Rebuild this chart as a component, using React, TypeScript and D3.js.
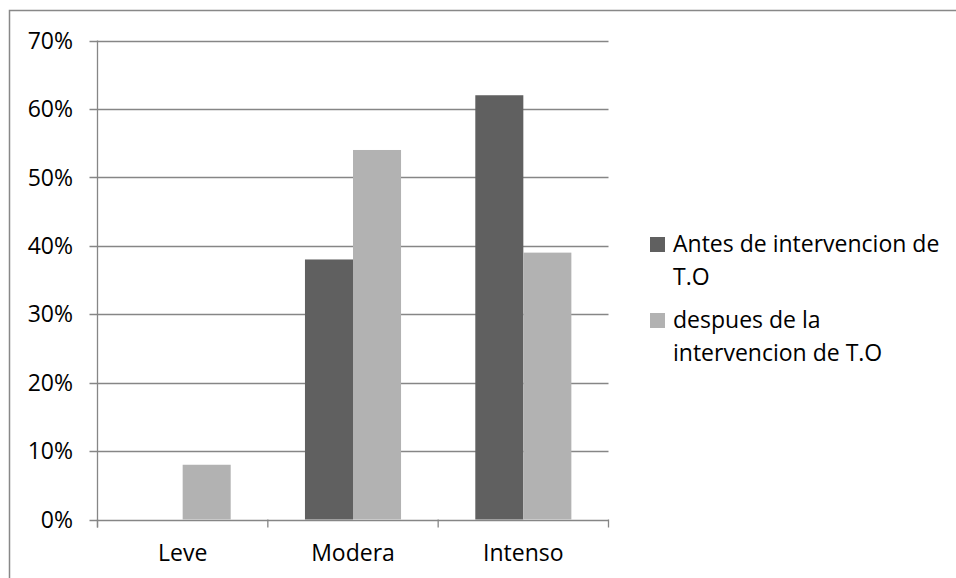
import React from 'react';
import * as d3 from 'd3';

const categories = ['Leve', 'Modera', 'Intenso'];
const seriesNames = ['Antes de intervencion de T.O', 'despues de la intervencion de T.O'];
const antes = [0, 0.38, 0.62];
const despues = [0.08, 0.54, 0.39];
const yTicks = [0, 0.1, 0.2, 0.3, 0.4, 0.5, 0.6, 0.7];
const legendLines = [['Antes de intervencion de', 'T.O'], ['despues de la', 'intervencion de T.O']];

const colors = ['#606060', '#b2b2b2'];
const font = "'Open Sans', 'Noto Sans', sans-serif";

export default function App() {
  const width = 956;
  const height = 578;
  const plot = { left: 97.5, right: 608.5, top: 40.5, bottom: 519.5 };

  const x = d3.scaleBand<string>()
    .domain(categories)
    .range([plot.left, plot.right])
    .paddingInner(0.436)
    .paddingOuter(0.218);

  const x1 = d3.scaleBand<string>()
    .domain(['0', '1'])
    .range([0, x.bandwidth()]);

  const y = d3.scaleLinear()
    .domain([0, 0.7])
    .range([plot.bottom, plot.top]);

  const series = [antes, despues];
  const step = (plot.right - plot.left) / categories.length;
  const boundaries = d3.range(categories.length + 1).map(i => plot.left + i * step);

  return (
    <svg width={width} height={height} style={{ position: 'absolute', left: 0, top: 0, background: '#fff' }}>
      <rect x={9.5} y={10.5} width={width + 20} height={height + 20} fill="#fff" stroke="#888" strokeWidth={1.5} />

      {/* gridlines + y ticks */}
      {yTicks.map(t => (
        <g key={t}>
          <line x1={plot.left - 8} x2={plot.right} y1={Math.round(y(t)) + 0.5} y2={Math.round(y(t)) + 0.5}
            stroke="#868686" strokeWidth={1.3} />
          <text x={73} y={y(t)} dy="0.36em" textAnchor="end" fontFamily={font} fontSize={23} fill="#000">
            {d3.format('.0%')(t)}
          </text>
        </g>
      ))}

      {/* y axis */}
      <line x1={plot.left} x2={plot.left} y1={plot.top} y2={plot.bottom + 8} stroke="#868686" strokeWidth={1.3} />

      {/* x ticks */}
      {boundaries.map((b, i) => (
        <line key={i} x1={b} x2={b} y1={plot.bottom} y2={plot.bottom + 8} stroke="#868686" strokeWidth={1.3} />
      ))}

      {/* bars */}
      {categories.map((c, ci) => (
        <g key={c}>
          {series.map((s, si) => s[ci] > 0 && (
            <rect key={si}
              x={(x(c) ?? 0) + (x1(String(si)) ?? 0)}
              y={y(s[ci])}
              width={x1.bandwidth()}
              height={y(0) - y(s[ci])}
              fill={colors[si]} />
          ))}
          <text x={(x(c) ?? 0) + x.bandwidth() / 2} y={561} textAnchor="middle" fontFamily={font} fontSize={23} fill="#000">
            {c}
          </text>
        </g>
      ))}

      {/* legend */}
      {seriesNames.map((name, i) => (
        <g key={name}>
          <rect x={650} y={i === 0 ? 237 : 313} width={15} height={15} fill={colors[i]} />
          <text x={673} y={i === 0 ? 252 : 328} fontFamily={font} fontSize={23} fill="#000">
            {legendLines[i].map((l, li) => (
              <tspan key={li} x={673} dy={li === 0 ? 0 : 33}>{l}</tspan>
            ))}
          </text>
        </g>
      ))}
    </svg>
  );
}
